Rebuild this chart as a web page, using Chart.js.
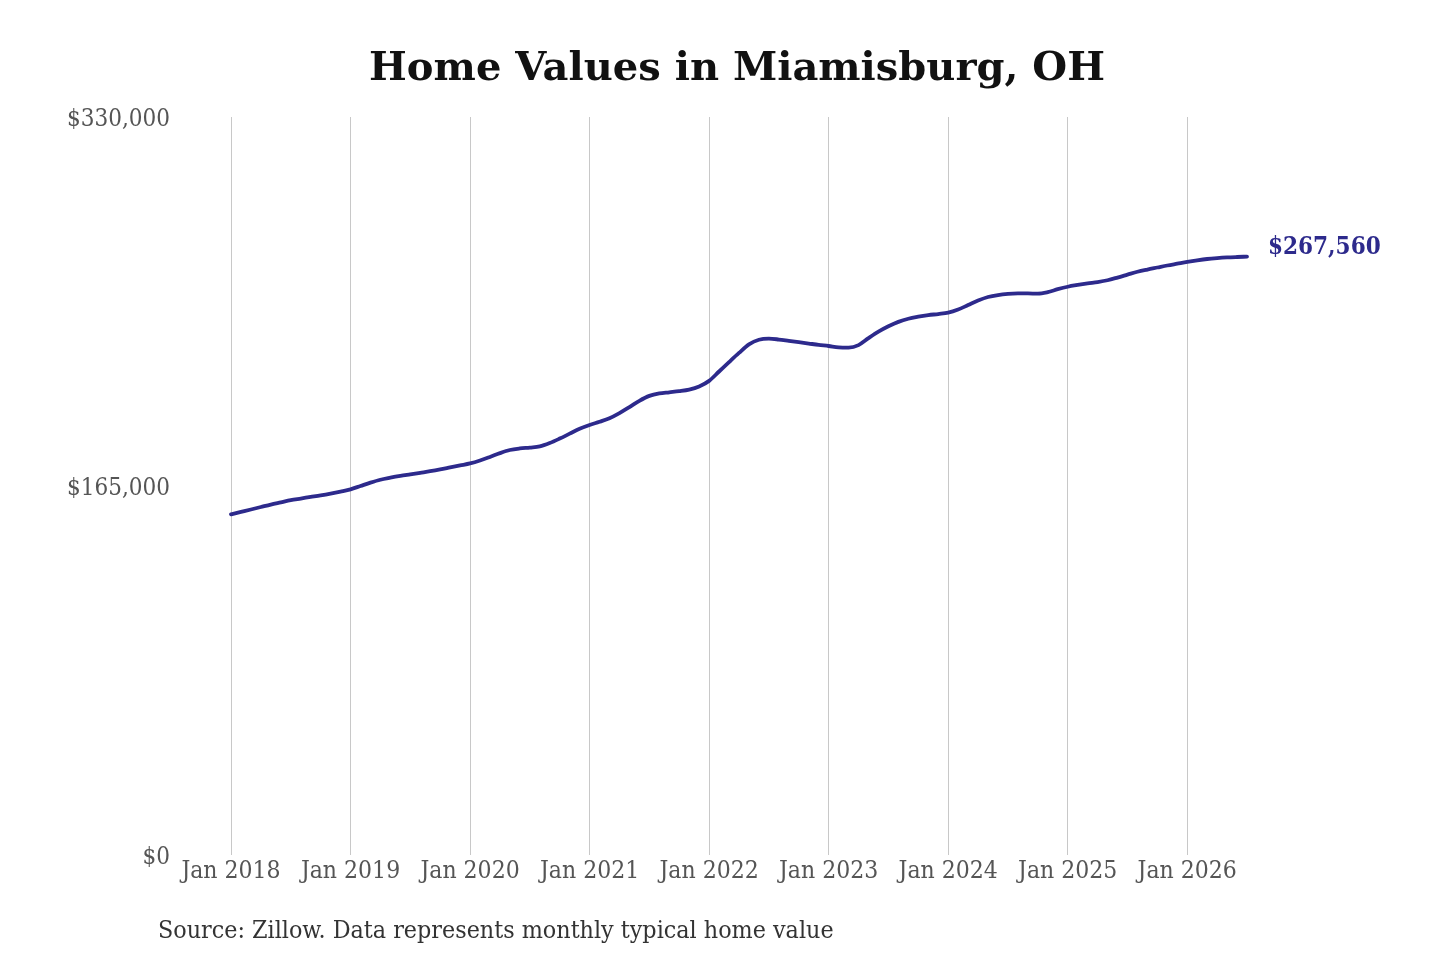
<!DOCTYPE html>
<html>
<head>
<meta charset="utf-8">
<script src="https://cdn.jsdelivr.net/npm/chart.js@4.4.1/dist/chart.umd.min.js"></script>
<style>
  html, body { margin: 0; padding: 0; background: #fff; }
  #wrap { position: relative; width: 1440px; height: 960px; }
  #title { position: absolute; left: 0; width: 1474px; top: 41px; text-align: center;
    font-family: 'DejaVu Serif', serif; font-weight: bold; font-size: 40px; color: #111; line-height: 50px; }
  #source { position: absolute; left: 158px; top: 913px; font-family: 'DejaVu Serif Condensed', 'DejaVu Serif', serif;
    font-stretch: condensed; font-size: 24.8px; color: #333; line-height: 34px; }
  canvas { position: absolute; left: 0; top: 0; }
</style>
</head>
<body>
<div id="wrap">
  <canvas id="c" width="1440" height="960"></canvas>
  <div id="title">Home Values in Miamisburg, OH</div>
  <div id="source">Source: Zillow. Data represents monthly typical home value</div>
</div>
<script>
const startYear = 2018;
const monthNames = ['Jan','Feb','Mar','Apr','May','Jun','Jul','Aug','Sep','Oct','Nov','Dec'];
// Monthly typical home value, Jan 2018 – Jul 2026
const homeValues = [
  152300,153400,154500,155600,156700,157700,158700,159400,160100,160800,161600,162500, // 2018
  163500,165000,166500,167800,168700,169500,170200,170900,171600,172400,173300,174200, // 2019
  175100,176400,178000,179700,181100,181800,182200,182700,184200,186200,188400,190600, // 2020
  192300,193700,195300,197600,200300,203100,205300,206400,206900,207400,208100,209500, // 2021
  212000,216200,220400,224500,228300,230400,230900,230500,229900,229300,228700,228100, // 2022
  227600,227000,226900,228000,231100,234000,236400,238400,239800,240700,241400,241900, // 2023
  242500,243900,245900,247900,249500,250400,250900,251100,251100,251000,251700,253000, // 2024
  254100,254900,255600,256200,257000,258200,259500,260800,261800,262700,263600,264400, // 2025
  265200,265900,266500,266900,267200,267400,267560                                     // 2026
];
const yTicks = [0, 165000, 330000];
const endLabel = '$267,560';

const labels = homeValues.map((_, i) => monthNames[i % 12] + ' ' + (startYear + Math.floor(i / 12)));
const lineColor = '#2d2a8c';
const tickFont = { family: "'DejaVu Serif Condensed', 'DejaVu Serif', serif", size: 24.5 };
const fmt = v => '$' + v.toLocaleString('en-US');

const endLabelPlugin = {
  id: 'endLabel',
  afterDatasetsDraw(chart) {
    const { ctx, scales } = chart;
    const i = homeValues.length - 1;
    const x = scales.x.getPixelForValue(i);
    const y = scales.y.getPixelForValue(homeValues[i]);
    ctx.save();
    ctx.font = "bold 24px 'DejaVu Serif Condensed', 'DejaVu Serif', serif";
    ctx.fillStyle = lineColor;
    ctx.textAlign = 'left';
    ctx.textBaseline = 'middle';
    ctx.fillText(endLabel, x + 21, y - 9);
    ctx.restore();
  }
};

new Chart(document.getElementById('c'), {
  type: 'line',
  data: {
    labels,
    datasets: [{
      data: homeValues,
      borderColor: lineColor,
      borderWidth: 3.8,
      pointRadius: 0,
      cubicInterpolationMode: 'monotone',
      borderCapStyle: 'round',
      borderJoinStyle: 'round',
      fill: false
    }]
  },
  options: {
    responsive: false,
    animation: false,
    devicePixelRatio: 1,
    layout: { padding: { top: 117, left: 0, right: 193, bottom: 65 } },
    plugins: { legend: { display: false }, tooltip: { enabled: false }, title: { display: false } },
    scales: {
      x: {
        type: 'category',
        offset: false,
        border: { display: false },
        grid: {
          drawTicks: false,
          lineWidth: 1,
          color: ctx => (ctx.index % 12 === 0 ? '#c8c8c8' : 'rgba(0,0,0,0)')
        },
        ticks: {
          autoSkip: false,
          maxRotation: 0,
          minRotation: 0,
          padding: 2,
          color: '#555',
          font: tickFont,
          callback: (v, i) => (i % 12 === 0 ? labels[i] : '')
        },
        afterFit: s => { s.height = 40; }
      },
      y: {
        min: 0,
        max: 330000,
        border: { display: false },
        grid: { display: false, drawTicks: false },
        afterBuildTicks: s => { s.ticks = yTicks.map(v => ({ value: v })); },
        ticks: {
          padding: 61,
          labelOffset: 3,
          color: '#555',
          font: { family: tickFont.family, size: 24 },
          callback: v => fmt(v)
        },
        afterFit: s => { s.width = 231; }
      }
    }
  },
  plugins: [endLabelPlugin]
});
</script>
</body>
</html>
